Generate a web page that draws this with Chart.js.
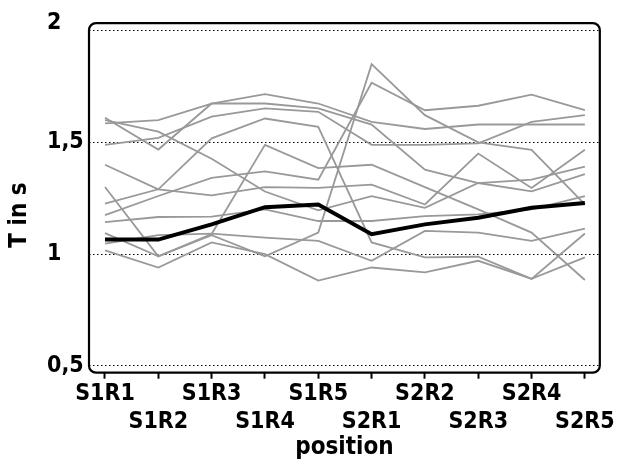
<!DOCTYPE html>
<html>
<head>
<meta charset="utf-8">
<script src="https://cdn.jsdelivr.net/npm/chart.js@4"></script>
<style>
html,body{margin:0;padding:0;background:#fff;}
canvas{display:block;}
</style>
</head>
<body>
<canvas id="c" width="617" height="464"></canvas>
<script>
const positions = ['S1R1','S1R2','S1R3','S1R4','S1R5','S2R1','S2R2','S2R3','S2R4','S2R5'];
const yTicks = [0.5, 1, 1.5, 2];
const meanT = [1.065, 1.065, 1.133, 1.21, 1.222, 1.089, 1.133, 1.163, 1.207, 1.229];
const p01 = [1.585, 1.60, 1.674, 1.716, 1.674, 1.592, 1.56, 1.58, 1.58, 1.58];
const p02 = [1.61, 1.468, 1.674, 1.674, 1.652, 1.58, 1.378, 1.318, 1.333, 1.392];
const p03 = [1.489, 1.52, 1.615, 1.652, 1.637, 1.489, 1.489, 1.496, 1.592, 1.622];
const p04 = [1.226, 1.29, 1.518, 1.607, 1.57, 1.052, 0.985, 0.988, 0.889, 1.092];
const p05 = [1.60, 1.548, 1.427, 1.28, 1.196, 1.259, 1.207, 1.318, 1.281, 1.358];
const p06 = [1.40, 1.29, 1.263, 1.30, 1.296, 1.311, 1.222, 1.45, 1.296, 1.467];
const p07 = [1.174, 1.26, 1.341, 1.37, 1.333, 1.767, 1.644, 1.664, 1.714, 1.644];
const p08 = [1.143, 1.166, 1.168, 1.20, 1.148, 1.148, 1.17, 1.178, 1.20, 1.259];
const p09 = [1.30, 0.99, 1.09, 1.489, 1.385, 1.40, 1.30, 1.20, 1.096, 0.884];
const p10 = [1.094, 0.99, 1.085, 0.99, 1.096, 1.85, 1.622, 1.50, 1.467, 1.222];
const p11 = [1.047, 1.085, 1.092, 1.074, 1.059, 0.97, 1.104, 1.096, 1.059, 1.114];
const p12 = [1.017, 0.94, 1.052, 1.0, 0.881, 0.94, 0.918, 0.97, 0.889, 0.985];
const subjects = [p01,p02,p03,p04,p05,p06,p07,p08,p09,p10,p11,p12];

const FONT = '"DejaVu Sans Condensed", "DejaVu Sans", sans-serif';
const toPts = arr => arr.map((v, i) => ({x: i, y: v}));

const datasets = [{
  label: 'mean',
  data: toPts(meanT),
  borderColor: '#000',
  borderWidth: 4,
  pointRadius: 0,
  tension: 0
}].concat(subjects.map((s, k) => ({
  label: 'subject ' + (k + 1),
  data: toPts(s),
  borderColor: '#999999',
  borderWidth: 1.8,
  pointRadius: 0,
  tension: 0
})));

const decor = {
  id: 'decor',
  afterDraw(chart) {
    const {ctx, chartArea: a} = chart;
    ctx.save();
    ctx.strokeStyle = '#000';
    ctx.lineWidth = 2.2;
    const r = 7;
    ctx.beginPath();
    ctx.moveTo(a.left + r, a.top);
    ctx.lineTo(a.right - r, a.top);
    ctx.arcTo(a.right, a.top, a.right, a.top + r, r);
    ctx.lineTo(a.right, a.bottom - r);
    ctx.arcTo(a.right, a.bottom, a.right - r, a.bottom, r);
    ctx.lineTo(a.left + r, a.bottom);
    ctx.arcTo(a.left, a.bottom, a.left, a.bottom - r, r);
    ctx.lineTo(a.left, a.top + r);
    ctx.arcTo(a.left, a.top, a.left + r, a.top, r);
    ctx.closePath();
    ctx.stroke();
    ctx.translate(20, 215);
    ctx.rotate(-Math.PI / 2);
    ctx.fillStyle = '#000';
    ctx.textAlign = 'center';
    ctx.textBaseline = 'middle';
    ctx.font = 'bold 24px ' + FONT;
    ctx.fillText('T in s', 0, 0);
    ctx.restore();
  }
};

new Chart(document.getElementById('c'), {
  type: 'line',
  data: {datasets},
  options: {
    responsive: false,
    animation: false,
    devicePixelRatio: 1,
    layout: {padding: {left: 47, right: 10.3, top: 20.7, bottom: 0}},
    plugins: {legend: {display: false}, tooltip: {enabled: false}},
    scales: {
      x: {
        type: 'linear',
        min: -0.3,
        max: 9.28,
        afterBuildTicks: s => { s.ticks = positions.map((_, i) => ({value: i})); },
        afterFit: s => { s.height = 91.3; },
        ticks: {
          autoSkip: false,
          maxRotation: 0,
          padding: 2,
          color: '#000',
          font: {family: FONT, size: 23, weight: 'bold', lineHeight: 1.19},
          callback: (v) => (v % 2 === 1) ? ['', positions[v]] : positions[v]
        },
        grid: {drawOnChartArea: false, drawTicks: true, tickLength: 6, tickWidth: 2, tickColor: '#000'},
        border: {display: false},
        title: {display: true, text: 'position', color: '#000',
          font: {family: FONT, size: 24, weight: 'bold', lineHeight: 1.1},
          padding: {top: 0, bottom: 3}}
      },
      y: {
        min: 0.469,
        max: 2.034,
        afterBuildTicks: s => { s.ticks = yTicks.map(v => ({value: v})); },
        afterFit: s => { s.width = 42; },
        ticks: {
          crossAlign: 'far',
          padding: 7,
          color: '#000',
          font: {family: FONT, size: 23, weight: 'bold', lineHeight: 0.7},
          callback: v => v === 2 ? ['2', ''] : String(v).replace('.', ',')
        },
        grid: {color: '#000', lineWidth: 1, drawTicks: false},
        border: {display: false, dash: [1.5, 2.5]}
      }
    }
  },
  plugins: [decor]
});
</script>
</body>
</html>
